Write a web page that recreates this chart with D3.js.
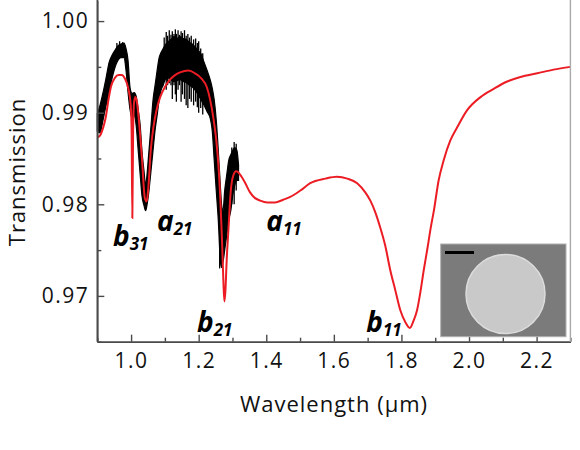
<!DOCTYPE html>
<html>
<head>
<meta charset="utf-8">
<script src="https://cdn.jsdelivr.net/npm/d3@7"></script>
<style>
body { margin: 0; background: #fff; }
</style>
</head>
<body>
<div id="canvas"></div>
<script>
"use strict"

// x ticks (µm) and y ticks (transmission)
let xTicks = [1.0, 1.2, 1.4, 1.6, 1.8, 2.0, 2.2]
let xMinorTicks = [0.9, 1.1, 1.3, 1.5, 1.7, 1.9, 2.1, 2.3]
let yTicks = [0.97, 0.98, 0.99, 1.00]
let yMinorTicks = [0.965, 0.975, 0.985, 0.995]

// calculated spectrum (red)
let modelWavelength = [0.900, 0.908, 0.916, 0.925, 0.933, 0.941, 0.952, 0.963, 0.972, 0.982,
    0.992, 0.999, 1.0015, 1.0037, 1.006, 1.009, 1.013, 1.018, 1.024, 1.032,
    1.041, 1.046, 1.051, 1.058, 1.066, 1.076, 1.086, 1.100, 1.115, 1.130,
    1.145, 1.170, 1.189, 1.209, 1.224, 1.234, 1.244, 1.252, 1.258, 1.264,
    1.269, 1.273, 1.276, 1.279, 1.283, 1.288, 1.295, 1.303, 1.311, 1.317,
    1.327, 1.338, 1.352, 1.366, 1.382, 1.403, 1.426, 1.450, 1.471, 1.501,
    1.530, 1.575, 1.609, 1.640, 1.669, 1.693, 1.708, 1.723, 1.737, 1.752,
    1.767, 1.782, 1.797, 1.812, 1.825, 1.836, 1.846, 1.856, 1.866, 1.877,
    1.887, 1.896, 1.910, 1.925, 1.945, 1.965, 1.995, 2.034, 2.073, 2.113,
    2.152, 2.202, 2.250, 2.300]
let modelTransmission = [0.9873, 0.9875, 0.9882, 0.9895, 0.9914, 0.9929, 0.9938, 0.9941, 0.9941, 0.9937,
    0.9926, 0.9908, 0.9880, 0.9785, 0.9880, 0.9912, 0.9917, 0.9910, 0.9888, 0.9851,
    0.9806, 0.9803, 0.9818, 0.9858, 0.9884, 0.9904, 0.9917, 0.9928, 0.9936, 0.9941,
    0.9944, 0.9946, 0.9943, 0.9937, 0.9928, 0.9914, 0.9893, 0.9870, 0.9845, 0.9806,
    0.9761, 0.9717, 0.9694, 0.9705, 0.9740, 0.9772, 0.9815, 0.9832, 0.9836, 0.9835,
    0.9830, 0.9823, 0.9813, 0.9807, 0.9804, 0.9802, 0.9802, 0.9805, 0.9808, 0.9815,
    0.9823, 0.9828, 0.9830, 0.9828, 0.9823, 0.9813, 0.9804, 0.9791, 0.9775, 0.9755,
    0.9728, 0.9706, 0.9684, 0.9671, 0.9665, 0.9673, 0.9684, 0.9704, 0.9728, 0.9752,
    0.9775, 0.9793, 0.9826, 0.9848, 0.9870, 0.9884, 0.9903, 0.9917, 0.9926, 0.9934,
    0.9939, 0.9943, 0.9947, 0.9950]

// measured spectrum (black, noisy): upper and lower edge of the trace
let measuredWavelength = [0.900, 0.908, 0.917, 0.926, 0.935, 0.944, 0.952, 0.961, 0.970, 0.979,
    0.985, 0.991, 0.997, 1.003, 1.009, 1.015, 1.021, 1.027, 1.032, 1.038,
    1.043, 1.047, 1.053, 1.059, 1.065, 1.071, 1.077, 1.083, 1.089, 1.095,
    1.101, 1.109, 1.118, 1.127, 1.136, 1.145, 1.154, 1.163, 1.172, 1.181,
    1.189, 1.198, 1.207, 1.216, 1.225, 1.234, 1.240, 1.246, 1.252, 1.258,
    1.264, 1.268, 1.272, 1.277, 1.283, 1.289, 1.295, 1.301, 1.307, 1.313, 1.318]
let measuredUpper = [0.9899, 0.9908, 0.9922, 0.9938, 0.9955, 0.9963, 0.9968, 0.9973, 0.9975, 0.9976,
    0.9970, 0.9957, 0.9927, 0.9921, 0.9922, 0.9918, 0.9903, 0.9886, 0.9859, 0.9837,
    0.9821, 0.9832, 0.9859, 0.9886, 0.9914, 0.9930, 0.9946, 0.9960, 0.9966, 0.9970,
    0.9974, 0.9977, 0.9980, 0.9983, 0.9981, 0.9983, 0.9981, 0.9980, 0.9977, 0.9975,
    0.9972, 0.9968, 0.9964, 0.9955, 0.9946, 0.9936, 0.9927, 0.9914, 0.9892, 0.9859,
    0.9821, 0.9799, 0.9793, 0.9815, 0.9832, 0.9848, 0.9854, 0.9859, 0.9862, 0.9859, 0.9843]
let measuredLower = [0.9880, 0.9878, 0.9892, 0.9908, 0.9922, 0.9938, 0.9949, 0.9957, 0.9960, 0.9960,
    0.9946, 0.9922, 0.9903, 0.9894, 0.9897, 0.9886, 0.9859, 0.9832, 0.9810, 0.9799,
    0.9793, 0.9799, 0.9815, 0.9837, 0.9859, 0.9881, 0.9897, 0.9914, 0.9925, 0.9930,
    0.9936, 0.9938, 0.9936, 0.9934, 0.9935, 0.9936, 0.9934, 0.9933, 0.9930, 0.9928,
    0.9925, 0.9920, 0.9914, 0.9908, 0.9901, 0.9894, 0.9881, 0.9848, 0.9815, 0.9783,
    0.9739, 0.9731, 0.9737, 0.9750, 0.9766, 0.9783, 0.9793, 0.9810, 0.9821, 0.9826, 0.9826]

// single noise spikes sticking out of the measured trace
let spikeWavelength = [0.958, 0.966, 0.975, 1.098, 1.104, 1.108, 1.113, 1.118, 1.122, 1.127,
    1.131, 1.134, 1.139, 1.143, 1.148, 1.152, 1.158, 1.163, 1.168, 1.173,
    1.178, 1.185, 1.191, 1.196, 1.200, 1.206, 1.212, 1.262, 1.298, 1.305, 1.311]
let spikeLow = [0.9960, 0.9962, 0.9962, 0.9935, 0.9925, 0.9930, 0.9932, 0.9930, 0.9915, 0.9930,
    0.9920, 0.9912, 0.9925, 0.9930, 0.9912, 0.9920, 0.9915, 0.9908, 0.9905, 0.9915,
    0.9912, 0.9908, 0.9912, 0.9906, 0.9900, 0.9905, 0.9898, 0.9730, 0.9800, 0.9800, 0.9815]
let spikeHigh = [0.9976, 0.9978, 0.9977, 0.9982, 0.9988, 0.9984, 0.9990, 0.9985, 0.9989, 0.9986,
    0.9991, 0.9986, 0.9990, 0.9985, 0.9989, 0.9987, 0.9990, 0.9984, 0.9986, 0.9982,
    0.9984, 0.9980, 0.9981, 0.9976, 0.9978, 0.9970, 0.9965, 0.9800, 0.9862, 0.9868, 0.9866]

// mode labels
let modeLetter = ["b", "a", "a", "b", "b"]
let modeIndex = ["31", "21", "11", "21", "11"]
let labelAt = [[0.9465, 0.97541], [1.077, 0.97705], [1.400, 0.97705], [1.195, 0.96601], [1.696, 0.96601]]

let width = 580
let height = 450
let font = "'Open Sans', 'DejaVu Sans', sans-serif"
let axisColor = "#4a4a4a"

let drawing = d3.select("#canvas")
    .append("svg")
    .attr("width", width)
    .attr("height", height)

let x = d3.scaleLinear().domain([0.9, 2.3]).range([97.3, 570.4])
let y = d3.scaleLinear().domain([0.965, 1.0023]).range([341.7, 0])

// measured trace as a filled band
let measured = measuredWavelength.map((w, i) => ({w: w, hi: measuredUpper[i], lo: measuredLower[i]}))
let band = d3.area()
    .x(d => x(d.w))
    .y0(d => y(d.lo))
    .y1(d => y(d.hi))
    .curve(d3.curveMonotoneX)

drawing.append("path")
    .datum(measured)
    .attr("d", band)
    .attr("fill", "black")
    .attr("stroke", "black")
    .attr("stroke-width", 1.2)

drawing.append("g")
    .selectAll("line")
    .data(spikeWavelength)
    .join("line")
    .attr("x1", d => x(d))
    .attr("x2", d => x(d))
    .attr("y1", (d, i) => y(spikeLow[i]))
    .attr("y2", (d, i) => y(spikeHigh[i]))
    .attr("stroke", "black")
    .attr("stroke-width", 1.3)

// calculated spectrum on top
let model = modelWavelength.map((w, i) => ({w: w, t: modelTransmission[i]}))
let line = d3.line()
    .x(d => x(d.w))
    .y(d => y(d.t))
    .curve(d3.curveMonotoneX)

drawing.append("path")
    .datum(model)
    .attr("d", line)
    .attr("fill", "none")
    .attr("stroke", "#ec1c24")
    .attr("stroke-width", 2)

// axes, ticks pointing inwards
let yAxis = drawing.append("g")
    .attr("transform", "translate(97.3,0)")
    .call(d3.axisLeft(y).tickValues(yTicks).tickFormat(d3.format(".2f"))
        .tickSizeInner(-7).tickSizeOuter(0).tickPadding(8))
let yMinor = drawing.append("g")
    .attr("transform", "translate(97.3,0)")
    .call(d3.axisLeft(y).tickValues(yMinorTicks).tickFormat("")
        .tickSizeInner(-4).tickSizeOuter(0))

let xAxis = drawing.append("g")
    .attr("transform", "translate(0,341.7)")
    .call(d3.axisBottom(x).tickValues(xTicks).tickFormat(d3.format(".1f"))
        .tickSizeInner(-7).tickSizeOuter(0).tickPadding(11))
let xMinor = drawing.append("g")
    .attr("transform", "translate(0,341.7)")
    .call(d3.axisBottom(x).tickValues(xMinorTicks).tickFormat("")
        .tickSizeInner(-4).tickSizeOuter(0))

for (let g of [yAxis, yMinor, xAxis, xMinor]) {
    g.selectAll(".domain").attr("stroke", axisColor).attr("stroke-width", 1.6)
    g.selectAll(".tick line").attr("stroke", axisColor).attr("stroke-width", 1.4)
    g.selectAll(".tick text")
        .attr("fill", "#111")
        .style("font-family", font)
        .style("font-size", "21px")
        .style("letter-spacing", "1.5px")
}
yAxis.select(".domain").attr("d", "M0,0V341.7")

// right frame line
let rightFrame = drawing.append("line")
    .attr("x1", 570.4)
    .attr("x2", 570.4)
    .attr("y1", 0)
    .attr("y2", 341.7)
    .attr("stroke", "#aaaaaa")
    .attr("stroke-width", 1.4)

// axis titles
drawing.append("text")
    .attr("x", 334)
    .attr("y", 412)
    .attr("text-anchor", "middle")
    .style("font-family", font)
    .style("font-size", "22px")
    .style("letter-spacing", "1px")
    .attr("fill", "#111")
    .text("Wavelength (\u03bcm)")

drawing.append("text")
    .attr("transform", "translate(25,172) rotate(-90)")
    .attr("text-anchor", "middle")
    .style("font-family", font)
    .style("font-size", "22px")
    .style("letter-spacing", "1px")
    .attr("fill", "#111")
    .text("Transmission")

// mode labels
let labels = drawing.append("g")
    .selectAll("text")
    .data(modeLetter)
    .join("text")
    .attr("x", (d, i) => x(labelAt[i][0]))
    .attr("y", (d, i) => y(labelAt[i][1]))
    .style("font-family", font)
    .style("font-style", "italic")
    .style("font-weight", "bold")
    .attr("fill", "black")

labels.append("tspan")
    .style("font-size", "28px")
    .text(d => d)
labels.append("tspan")
    .attr("dy", 4)
    .style("font-size", "17px")
    .text((d, i) => modeIndex[i])

// inset micrograph
let inset = drawing.append("g")
inset.append("rect")
    .attr("x", 440.7)
    .attr("y", 244)
    .attr("width", 125.3)
    .attr("height", 92.7)
    .attr("fill", "#7b7b7b")
    .attr("stroke", "#b0b0b0")
    .attr("stroke-width", 1)
inset.append("circle")
    .attr("cx", 505.5)
    .attr("cy", 294)
    .attr("r", 39.5)
    .attr("fill", "#c9c9c9")
    .attr("stroke", "#dcdcdc")
    .attr("stroke-width", 1.5)
inset.append("line")
    .attr("x1", 445)
    .attr("x2", 474)
    .attr("y1", 252.5)
    .attr("y2", 252.5)
    .attr("stroke", "black")
    .attr("stroke-width", 3)
</script>
</body>
</html>
